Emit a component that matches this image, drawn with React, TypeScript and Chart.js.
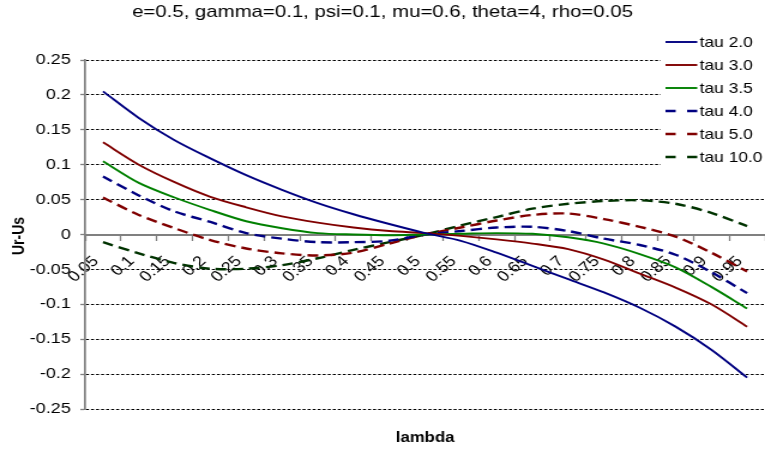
import React, { useEffect, useRef } from "react";
import { Chart, registerables } from "chart.js";

Chart.register(...registerables);

const FONT = "'Liberation Sans', Arial, Helvetica, sans-serif";

// The reference picture is a chart drawn ~638px wide and shown 765px wide.
const DRAW_W = 638;
const DRAW_H = 455;
const SHOW_W = 765;

const chartTitle = "e=0.5, gamma=0.1, psi=0.1, mu=0.6, theta=4, rho=0.05";
const xTitle = "lambda";
const yTitle = "Ur-Us";

const lambdaLabels = [
  "0.05", "0.1", "0.15", "0.2", "0.25", "0.3", "0.35", "0.4", "0.45", "0.5",
  "0.55", "0.6", "0.65", "0.7", "0.75", "0.8", "0.85", "0.9", "0.95",
];

const seriesNames = ["tau 2.0", "tau 3.0", "tau 3.5", "tau 4.0", "tau 5.0", "tau 10.0"];

const tau20 = [0.205, 0.167, 0.135, 0.109, 0.085, 0.064, 0.045, 0.029, 0.015, 0.002,
  -0.009, -0.026, -0.045, -0.064, -0.083, -0.105, -0.132, -0.165, -0.205];
const tau30 = [0.132, 0.100, 0.075, 0.054, 0.039, 0.026, 0.017, 0.010, 0.005, 0.002,
  -0.002, -0.007, -0.013, -0.021, -0.036, -0.056, -0.076, -0.100, -0.132];
const tau35 = [0.105, 0.074, 0.053, 0.035, 0.019, 0.009, 0.002, 0.000, -0.001, 0.000,
  0.001, 0.002, 0.001, -0.004, -0.013, -0.028, -0.047, -0.075, -0.106];
const tau40 = [0.083, 0.056, 0.033, 0.018, 0.002, -0.006, -0.011, -0.011, -0.009, 0.000,
  0.005, 0.010, 0.011, 0.005, -0.006, -0.015, -0.029, -0.054, -0.084];
const tau50 = [0.053, 0.028, 0.009, -0.008, -0.020, -0.027, -0.030, -0.026, -0.013, 0.000,
  0.010, 0.020, 0.028, 0.030, 0.022, 0.011, -0.003, -0.026, -0.053];
const tau100 = [-0.011, -0.027, -0.041, -0.049, -0.049, -0.044, -0.034, -0.022, -0.011, 0.000,
  0.013, 0.025, 0.037, 0.044, 0.048, 0.049, 0.044, 0.031, 0.012];

const seriesValues = [tau20, tau30, tau35, tau40, tau50, tau100];
const seriesColors = ["#000080", "#800000", "#008000", "#000080", "#800000", "#003300"];
const seriesDashed = [false, false, false, true, true, true];

const yMin = -0.25;
const yMax = 0.25;
const yStep = 0.05;

const legendPlugin = {
  id: "sideLegend",
  afterDraw(chart: any) {
    const ctx = chart.ctx;
    ctx.save();
    ctx.fillStyle = "#ffffff";
    ctx.fillRect(551, 28, DRAW_W - 551, 146);
    chart.data.datasets.forEach((ds: any, i: number) => {
      const y = 42 + i * 23;
      ctx.beginPath();
      ctx.setLineDash(ds.borderDash && ds.borderDash.length ? [8.5, 9.5] : []);
      ctx.strokeStyle = ds.borderColor;
      ctx.lineWidth = ds.borderWidth;
      ctx.moveTo(555, y);
      ctx.lineTo(581.5, y);
      ctx.stroke();
      ctx.setLineDash([]);
      ctx.fillStyle = "#000000";
      ctx.font = `14.5px ${FONT}`;
      ctx.textBaseline = "middle";
      ctx.textAlign = "left";
      ctx.fillText(ds.label, 583.5, y + 1);
    });
    ctx.restore();
  },
};

const axisTitlePlugin = {
  id: "axisTitles",
  afterDraw(chart: any) {
    const ctx = chart.ctx;
    const area = chart.chartArea;
    ctx.save();
    ctx.fillStyle = "#000000";
    ctx.font = `bold 14px ${FONT}`;
    ctx.textAlign = "center";
    ctx.textBaseline = "middle";
    ctx.fillText(xTitle, (area.left + area.right) / 2, area.bottom + 29);
    ctx.translate(16, 236);
    ctx.rotate(-Math.PI / 2);
    ctx.fillText(yTitle, 0, 0);
    ctx.restore();
  },
};

export default function App() {
  const ref = useRef<HTMLCanvasElement | null>(null);

  useEffect(() => {
    if (!ref.current) return;
    Chart.defaults.font.family = FONT;
    const chart = new Chart(ref.current, {
      type: "line",
      data: {
        labels: lambdaLabels,
        datasets: seriesNames.map((name, i) => ({
          label: name,
          data: seriesValues[i],
          borderColor: seriesColors[i],
          backgroundColor: seriesColors[i],
          borderWidth: seriesDashed[i] ? 2.4 : 1.9,
          borderDash: seriesDashed[i] ? [9, 5] : [],
          pointRadius: 0,
          tension: 0.3,
          fill: false,
        })),
      },
      options: {
        animation: false,
        responsive: false,
        devicePixelRatio: 1,
        layout: { padding: { top: 0, left: 0, right: 0, bottom: 46 } },
        plugins: {
          legend: { display: false },
          tooltip: { enabled: false },
          title: {
            display: true,
            text: chartTitle,
            color: "#000000",
            font: { size: 17, weight: "normal" },
            padding: { top: 2, bottom: 37.6 },
          },
        },
        scales: {
          x: {
            type: "category",
            offset: true,
            position: { y: 0 },
            grid: {
              drawOnChartArea: false,
              offset: true,
              tickLength: 5,
              tickColor: "#808080",
              tickWidth: 1.3,
            },
            border: { color: "#808080", width: 2 },
            ticks: {
              minRotation: 45,
              maxRotation: 45,
              autoSkip: false,
              color: "#000000",
              font: { size: 15 },
              padding: 13,
              labelOffset: -6,
            },
            afterFit(s: any) {
              s.height = 0;
              s.paddingLeft = 0;
              s.paddingRight = 0;
            },
          },
          y: {
            min: yMin,
            max: yMax,
            ticks: {
              stepSize: yStep,
              autoSkip: false,
              color: "#000000",
              font: { size: 15 },
              padding: 8,
              callback: (v: any) => String(Math.round(Number(v) * 100) / 100),
            },
            grid: {
              color: (c: any) =>
                c.tick && Math.abs(c.tick.value) < 1e-9 ? "rgba(0,0,0,0)" : "#000000",
              lineWidth: 1,
              tickLength: 4,
              tickColor: "#808080",
              tickWidth: 1.3,
              tickBorderDash: [],
            },
            border: { color: "#808080", width: 1.7, dash: [2.5, 1.7] },
            afterFit(s: any) {
              s.width = 71;
              s.paddingTop = 0;
              s.paddingBottom = 0;
            },
          },
        },
      },
      plugins: [legendPlugin, axisTitlePlugin],
    } as any);
    return () => chart.destroy();
  }, []);

  return (
    <div style={{ position: "absolute", left: 0, top: 0, width: SHOW_W, height: DRAW_H, background: "#fff" }}>
      <canvas
        ref={ref}
        width={DRAW_W}
        height={DRAW_H}
        style={{ display: "block", width: `${SHOW_W}px`, height: `${DRAW_H}px` }}
      />
    </div>
  );
}
